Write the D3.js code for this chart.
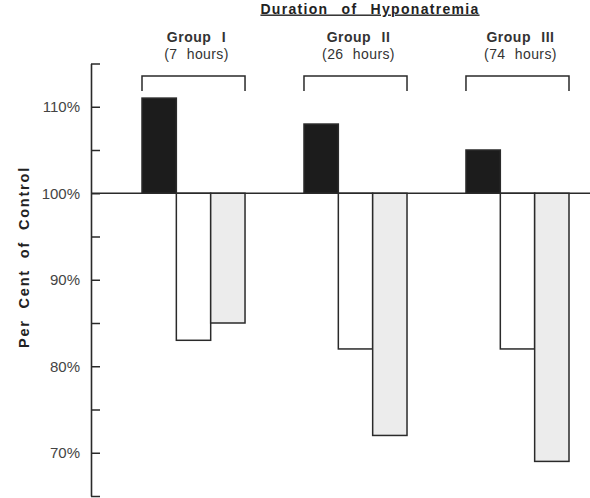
<!DOCTYPE html>
<html>
<head>
<meta charset="utf-8">
<script src="https://cdn.jsdelivr.net/npm/d3@7"></script>
<style>
  html, body { margin: 0; padding: 0; background: #fff; }
  svg { display: block; font-family: "Liberation Sans", Arial, Helvetica, sans-serif; }
</style>
</head>
<body>
<svg id="chart" width="590" height="498"></svg>
<script>
// ---- data ----
const groups = ["Group I", "Group II", "Group III"];
const durations = ["(7 hours)", "(26 hours)", "(74 hours)"];
const seriesNames = ["solid", "open", "stippled"];
const solidValues = [111, 108, 105];
const openValues = [83, 82, 82];
const stippledValues = [85, 72, 69];
const tickValues = [65, 70, 75, 80, 85, 90, 95, 100, 105, 110, 115];
const labelledTicks = [70, 80, 90, 100, 110];
const title = "Duration of Hyponatremia";
const yTitle = "Per Cent of Control";
const baseline = 100;

// ---- layout ----
const svg = d3.select("#chart");
const axisX = 91;
const y = d3.scaleLinear().domain([65, 115]).range([496, 63.5]);
const x = d3.scaleBand().domain(groups).range([142, 569]).paddingInner(0.364).paddingOuter(0);
const xs = d3.scaleBand().domain(seriesNames).range([0, x.bandwidth()]).padding(0);

const fills = { solid: "#1c1c1c", open: "#ffffff", stippled: "#ececec" };
const ink = "#2a2a2a";

const rows = groups.map((g, i) => ({
  group: g,
  duration: durations[i],
  values: [solidValues[i], openValues[i], stippledValues[i]].map((v, j) => ({ key: seriesNames[j], value: v, group: g }))
}));

// baseline
svg.append("line")
  .attr("x1", axisX).attr("x2", 590)
  .attr("y1", y(baseline)).attr("y2", y(baseline))
  .attr("stroke", ink).attr("stroke-width", 1.6);

// bars
const gBars = svg.append("g");
rows.forEach(r => {
  gBars.selectAll(null).data(r.values).enter().append("rect")
    .attr("x", d => x(d.group) + xs(d.key))
    .attr("width", xs.bandwidth())
    .attr("y", d => y(Math.max(d.value, baseline)))
    .attr("height", d => Math.abs(y(d.value) - y(baseline)))
    .attr("fill", d => fills[d.key])
    .attr("stroke", ink)
    .attr("stroke-width", 1.5);
});

// y axis
const axis = d3.axisLeft(y)
  .tickValues(tickValues)
  .tickSizeInner(-9)
  .tickSizeOuter(0)
  .tickPadding(11)
  .tickFormat(d => labelledTicks.includes(d) ? d + "%" : "");
const gAxis = svg.append("g").attr("transform", `translate(${axisX},0)`).call(axis);
gAxis.select(".domain").attr("stroke", ink).attr("stroke-width", 1.6);
gAxis.selectAll(".tick line").attr("stroke", ink).attr("stroke-width", 1.5);
gAxis.selectAll(".tick text").attr("fill", "#444").style("font-size", "15px");

// y title
svg.append("text")
  .attr("transform", `translate(29,257) rotate(-90)`)
  .attr("text-anchor", "middle")
  .attr("fill", "#222")
  .style("font-size", "14.5px").style("font-weight", "bold")
  .style("word-spacing", "5px").style("letter-spacing", "1.8px")
  .text(yTitle);

// top title
svg.append("text")
  .attr("x", 370).attr("y", 13.5)
  .attr("text-anchor", "middle")
  .attr("fill", "#222")
  .style("font-size", "14px").style("font-weight", "bold")
  .style("word-spacing", "8px").style("letter-spacing", "1.3px")
  .style("text-decoration", "underline")
  .text(title);

// group labels and brackets
rows.forEach(r => {
  const x0 = x(r.group), x1 = x0 + x.bandwidth(), cx = (x0 + x1) / 2;
  svg.append("text").attr("x", cx + 3).attr("y", 42).attr("text-anchor", "middle")
    .attr("fill", "#333").style("font-size", "14px").style("font-weight", "bold")
    .style("word-spacing", "6px").style("letter-spacing", "0.5px")
    .text(r.group);
  svg.append("text").attr("x", cx + 3).attr("y", 59).attr("text-anchor", "middle")
    .attr("fill", "#333").style("font-size", "14px")
    .style("word-spacing", "5px").style("letter-spacing", "0.4px")
    .text(r.duration);
  svg.append("path")
    .attr("d", `M${x0},91V76H${x1}V91`)
    .attr("fill", "none").attr("stroke", ink).attr("stroke-width", 1.5);
});
</script>
</body>
</html>
